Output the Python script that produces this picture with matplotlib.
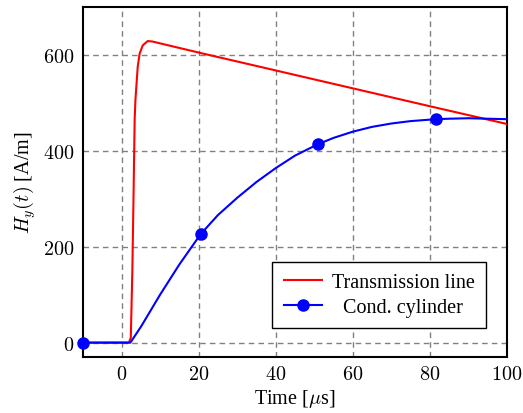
import numpy as np
import matplotlib
matplotlib.use("Agg")
import matplotlib.pyplot as plt
from matplotlib.ticker import FuncFormatter

# ── Data ───────────────────────────────────────────────────────────────────────
t_line = [-10, 1.9, 2.4, 2.8, 3.1, 3.4, 3.6, 4.2, 4.7, 5.5, 6.8, 8.0, 20, 50, 80, 100]
h_line = [0, 0, 10, 150, 300, 465, 506, 576, 603, 620, 629, 628, 605, 549, 493, 456]

t_cyl = [-10, 2.3, 5.1, 10, 15, 20.5, 25, 30, 35, 40, 45, 51, 55, 60, 65, 70, 75, 81.5, 85, 90, 95, 100]
h_cyl = [0, 0, 34, 100, 163, 226, 266, 302, 335, 364, 390, 414, 427, 440, 450, 457, 462, 466, 467, 468, 467, 466]
cyl_marks = [0, 5, 11, 17]   # indices of the marked samples

x_ticks = [0, 20, 40, 60, 80, 100]
y_ticks = [0, 200, 400, 600]
# ───────────────────────────────────────────────────────────────────────────────

plt.rcParams["font.family"] = ["Liberation Serif", "DejaVu Serif"]
plt.rcParams["mathtext.fontset"] = "cm"
FS = 14.5

fig = plt.figure(figsize=(5.23, 4.14), dpi=100)
ax = fig.add_axes([83 / 523, 56 / 414, 424 / 523, 350 / 414])

ax.plot(t_line, h_line, color="red", lw=1.5, label="Transmission line", zorder=3)
ax.plot(t_cyl, h_cyl, color="blue", lw=1.5, marker="o", ms=8, markevery=cyl_marks,
        clip_on=False, label="Cond. cylinder", zorder=4)

ax.set_xlim(-10, 100)
ax.set_ylim(-30, 700)
ax.set_xticks(x_ticks)
ax.set_yticks(y_ticks)
ax.xaxis.set_major_formatter(FuncFormatter(lambda v, p: f"${v:g}$"))
ax.yaxis.set_major_formatter(FuncFormatter(lambda v, p: f"${v:g}$"))
ax.tick_params(direction="in", length=0, labelsize=FS, pad=6)

ax.grid(True, color="gray", ls=(0, (4, 3)), lw=1.0)
for s in ax.spines.values():
    s.set_linewidth(1.5)

ax.set_xlabel(r"Time [$\mu$s]", fontsize=FS, labelpad=2)
ax.set_ylabel(r"$H_y(t)$ [A/m]", fontsize=FS, labelpad=4)

leg = ax.legend(loc="lower right", bbox_to_anchor=(0.95, 0.083), fontsize=FS,
                fancybox=False, framealpha=1, edgecolor="black",
                handlelength=1.9, handletextpad=0.5, borderpad=0.55,
                labelspacing=0.3, borderaxespad=0)
leg.get_frame().set_linewidth(1.0)
# pgfplots centres legend entries; nudge the shorter label to the middle
leg.get_texts()[1].set_x(11)

fig.savefig("out.png", dpi=100)
